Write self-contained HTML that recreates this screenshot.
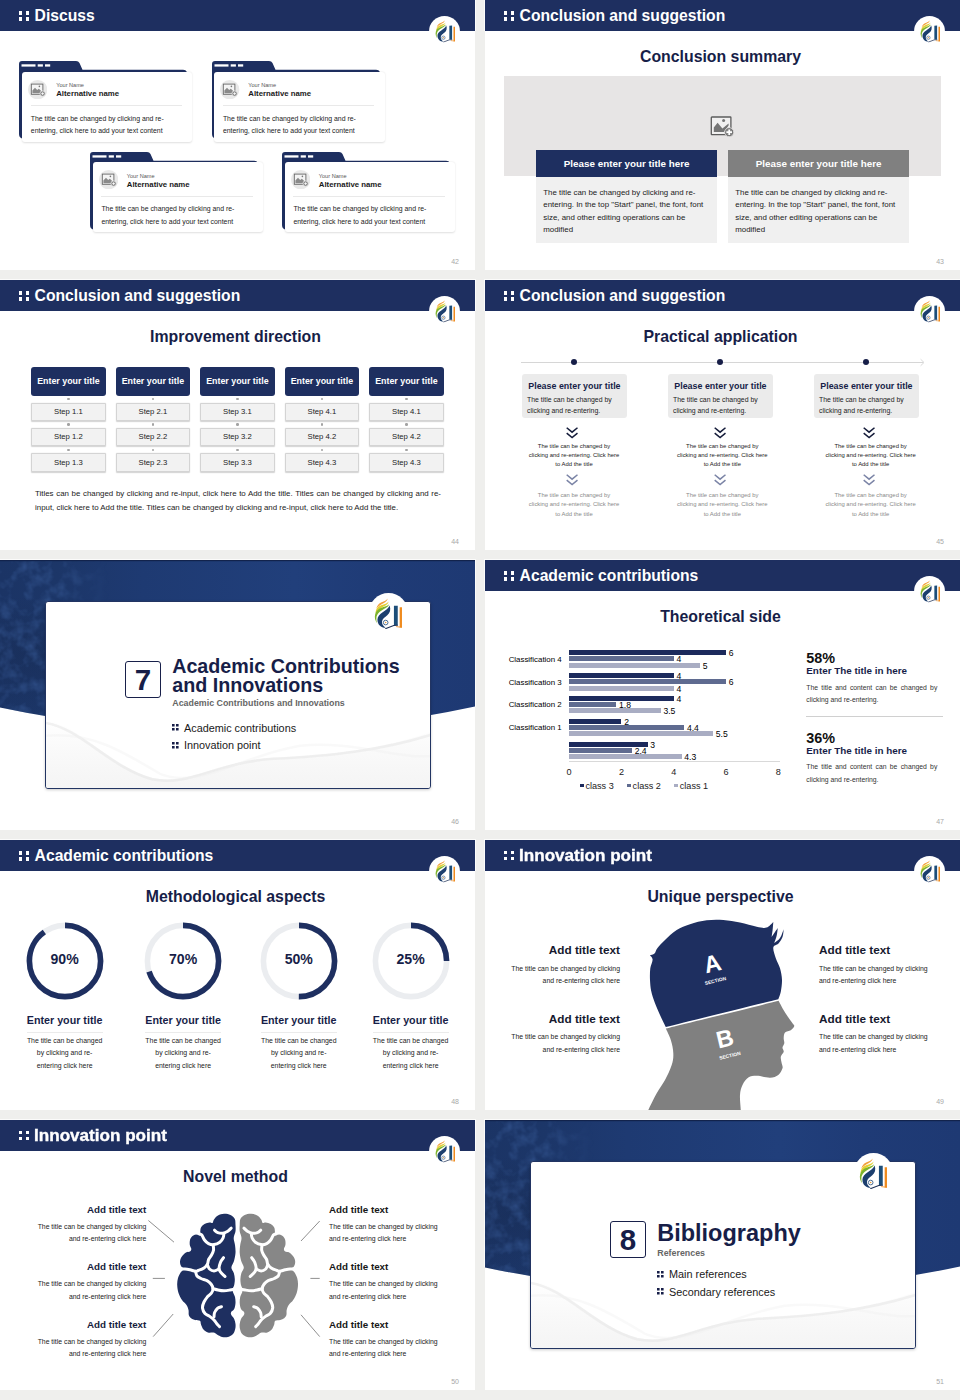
<!DOCTYPE html><html><head><meta charset="utf-8"><title>slides</title><style>

*{box-sizing:border-box;margin:0;padding:0}
html,body{width:960px;height:1400px}
body{background:#efefed;font-family:"Liberation Sans",sans-serif;position:relative;overflow:hidden;color:#222}
.s{position:absolute;width:475px;height:270px;background:#fff;overflow:hidden}
.hd{position:absolute;left:0;top:0;width:475px;height:30.6px;background:#1e2f60}
.hd b{position:absolute;left:34.6px;top:0;line-height:32.6px;font-size:15.7px;color:#fff;white-space:nowrap;font-weight:bold}
.hd i{position:absolute;width:3.3px;height:3.7px;background:#fff}
.lc{position:absolute;left:429.3px;top:15.5px;width:31px;height:31px;border-radius:50%;background:#fff}
.lg{position:absolute;left:434.8px;top:20.2px;width:20.3px;height:22.5px}
.t{position:absolute;white-space:nowrap;line-height:1}
.b{font-weight:bold}
.pn{position:absolute;font-size:7px;color:#a8a8a8;line-height:1;right:16px;top:257.6px}
.ttl{position:absolute;left:-2px;width:475px;text-align:center;font-weight:bold;color:#171e48;font-size:15.85px;line-height:1;top:49px;white-space:nowrap}
.a{position:absolute}
.halo{position:absolute;width:477px;background:#fbfbfa}

</style></head><body>

<svg width="0" height="0" style="position:absolute">
<defs>
<symbol id="logo" viewBox="0 0 28 31">
<path d="M13.4,0.4 C13.6,4.6 6.4,5.2 2.2,10.6 C3.2,7.2 4.6,5.6 7.6,4.2 C10.2,3 12.6,2.4 13.4,0.4Z" fill="#f2a03c"/>
<path d="M14.4,3.4 C14.4,7.8 5.6,8.4 1.5,15.2 C1.8,11 3.4,8.8 7,7.2 C10.4,5.8 13.4,5.4 14.4,3.4Z" fill="#e3cf2f"/>
<path d="M15,6 C15,10.6 3.6,11.4 2.4,19.6 C2.2,22 2.6,24 3.4,25.6 C1.2,23 0.2,19.6 1.2,16 C2.6,11.4 6.6,10 10,8.8 C12.6,7.8 14.4,7.4 15,6Z" fill="#7db32c"/>
<path d="M15.5,7.4 C16.9,11.4 16,14.8 13.2,17.2 C10.8,19.2 8.4,20.6 8,23.2 C7.6,25.8 8.8,27.8 11.6,29.6 C6.8,29.6 3.4,26.4 3.4,21.6 C3.4,14.8 13.4,13.4 15.5,7.4Z" fill="#1c3f6e"/>
<circle cx="11.6" cy="24.4" r="2.3" fill="none" stroke="#3b5f86" stroke-width="0.9"/>
<circle cx="11.6" cy="24.4" r="0.8" fill="#e59a3a"/>
<path d="M19.8,7.8 L23.6,7.6 L23.6,26.9 L19.8,26.9Z" fill="#1d4e79"/>
<path d="M25.5,9.2 L27.8,9.2 L27.8,29.4 L25.5,29.4Z" fill="#ef8b1e"/>
<path d="M11.2,30.6 L19.6,27.4 L23.8,27.2" fill="none" stroke="#1c2f55" stroke-width="1"/>
<path d="M22,28.4 L27.8,29.2" fill="none" stroke="#ef8b1e" stroke-width="0.8"/>
</symbol>
</defs>
</svg>

<div class="halo" style="left:-1px;top:-1px;height:31.6px"></div>
<div class="halo" style="left:484px;top:-1px;height:31.6px"></div>
<div class="halo" style="left:-1px;top:279px;height:31.6px"></div>
<div class="halo" style="left:484px;top:279px;height:31.6px"></div>
<div class="halo" style="left:-1px;top:559px;height:148px"></div>
<div class="halo" style="left:484px;top:559px;height:31.6px"></div>
<div class="halo" style="left:-1px;top:839px;height:31.6px"></div>
<div class="halo" style="left:484px;top:839px;height:31.6px"></div>
<div class="halo" style="left:-1px;top:1119px;height:31.6px"></div>
<div class="halo" style="left:484px;top:1119px;height:148px"></div>
<div class="s" style="left:0px;top:0px"><div class="hd"><i style="left:18.9px;top:10.9px"></i><i style="left:25.9px;top:10.9px"></i><i style="left:18.9px;top:17.0px"></i><i style="left:25.9px;top:17.0px"></i><b>Discuss</b></div><div class="lc"></div><svg class="lg"><use href="#logo"/></svg><div class="pn">42</div><svg class="a" style="left:19.4px;top:61.1px;width:175px;height:82px" viewBox="0 0 175 82"><path d="M0,3 Q0,0 3,0 L57,0 Q59.5,0 60.5,2 L63.5,8.7 L164,8.7 Q167.5,8.7 168,12 L168,20 L6,20 L6,78 L3,77.5 Q0,76.5 0,73Z" fill="#1e2f60"/><rect x="2.5" y="3.3" width="14" height="2.3" fill="#fff"/><rect x="18.7" y="3.3" width="5.2" height="2.3" fill="#fff"/><rect x="26" y="3.3" width="5.2" height="2.3" fill="#fff"/></svg><div class="a" style="left:21.9px;top:71.5px;width:170.6px;height:70px;background:#fff;border-radius:3px;box-shadow:0 0.5px 2px rgba(0,0,0,.13)"></div><svg class="a" style="left:28.099999999999998px;top:79.5px;width:19.4px;height:19.4px" viewBox="0 0 19.4 19.4"><circle cx="9.7" cy="9.7" r="9.7" fill="#e9e9e9"/><rect x="3.3" y="4.1" width="11.6" height="10.2" fill="#f4f4f4" stroke="#666" stroke-width="0.9"/><path d="M4.4,13.2 L4.4,10.6 L7,7.8 L9.2,10 L10.8,8.8 L13.8,11.6 L13.8,13.2Z" fill="#8a8a8a"/><circle cx="11.4" cy="6.4" r="0.8" fill="#777"/><circle cx="14.6" cy="13.6" r="2.7" fill="#8a8a8a" stroke="#f0f0f0" stroke-width="0.7"/><path d="M13.2,13.6h2.8M14.6,12.2v2.8" stroke="#fff" stroke-width="0.8"/></svg><div class="t " style="top:83.00px;font-size:5.6px;left:56.20px;color:#555;">Your Name</div><div class="t b" style="top:90.00px;font-size:7.8px;left:56.20px;color:#1a1a1a;">Alternative name</div><div class="a" style="left:30.799999999999997px;top:104.9px;width:151.2px;height:0.6px;background:#e9e9e9"></div><div class="t " style="top:115.87px;font-size:6.9px;left:30.80px;color:#222;">The title can be changed by clicking and re-</div><div class="t " style="top:128.07px;font-size:6.9px;left:30.80px;color:#222;">entering, click here to add your text content</div><svg class="a" style="left:211.5px;top:61.1px;width:175px;height:82px" viewBox="0 0 175 82"><path d="M0,3 Q0,0 3,0 L57,0 Q59.5,0 60.5,2 L63.5,8.7 L164,8.7 Q167.5,8.7 168,12 L168,20 L6,20 L6,78 L3,77.5 Q0,76.5 0,73Z" fill="#1e2f60"/><rect x="2.5" y="3.3" width="14" height="2.3" fill="#fff"/><rect x="18.7" y="3.3" width="5.2" height="2.3" fill="#fff"/><rect x="26" y="3.3" width="5.2" height="2.3" fill="#fff"/></svg><div class="a" style="left:214.0px;top:71.5px;width:170.6px;height:70px;background:#fff;border-radius:3px;box-shadow:0 0.5px 2px rgba(0,0,0,.13)"></div><svg class="a" style="left:220.20000000000002px;top:79.5px;width:19.4px;height:19.4px" viewBox="0 0 19.4 19.4"><circle cx="9.7" cy="9.7" r="9.7" fill="#e9e9e9"/><rect x="3.3" y="4.1" width="11.6" height="10.2" fill="#f4f4f4" stroke="#666" stroke-width="0.9"/><path d="M4.4,13.2 L4.4,10.6 L7,7.8 L9.2,10 L10.8,8.8 L13.8,11.6 L13.8,13.2Z" fill="#8a8a8a"/><circle cx="11.4" cy="6.4" r="0.8" fill="#777"/><circle cx="14.6" cy="13.6" r="2.7" fill="#8a8a8a" stroke="#f0f0f0" stroke-width="0.7"/><path d="M13.2,13.6h2.8M14.6,12.2v2.8" stroke="#fff" stroke-width="0.8"/></svg><div class="t " style="top:83.00px;font-size:5.6px;left:248.30px;color:#555;">Your Name</div><div class="t b" style="top:90.00px;font-size:7.8px;left:248.30px;color:#1a1a1a;">Alternative name</div><div class="a" style="left:222.9px;top:104.9px;width:151.2px;height:0.6px;background:#e9e9e9"></div><div class="t " style="top:115.87px;font-size:6.9px;left:222.90px;color:#222;">The title can be changed by clicking and re-</div><div class="t " style="top:128.07px;font-size:6.9px;left:222.90px;color:#222;">entering, click here to add your text content</div><svg class="a" style="left:90px;top:151.7px;width:175px;height:82px" viewBox="0 0 175 82"><path d="M0,3 Q0,0 3,0 L57,0 Q59.5,0 60.5,2 L63.5,8.7 L164,8.7 Q167.5,8.7 168,12 L168,20 L6,20 L6,78 L3,77.5 Q0,76.5 0,73Z" fill="#1e2f60"/><rect x="2.5" y="3.3" width="14" height="2.3" fill="#fff"/><rect x="18.7" y="3.3" width="5.2" height="2.3" fill="#fff"/><rect x="26" y="3.3" width="5.2" height="2.3" fill="#fff"/></svg><div class="a" style="left:92.5px;top:162.1px;width:170.6px;height:70px;background:#fff;border-radius:3px;box-shadow:0 0.5px 2px rgba(0,0,0,.13)"></div><svg class="a" style="left:98.7px;top:170.1px;width:19.4px;height:19.4px" viewBox="0 0 19.4 19.4"><circle cx="9.7" cy="9.7" r="9.7" fill="#e9e9e9"/><rect x="3.3" y="4.1" width="11.6" height="10.2" fill="#f4f4f4" stroke="#666" stroke-width="0.9"/><path d="M4.4,13.2 L4.4,10.6 L7,7.8 L9.2,10 L10.8,8.8 L13.8,11.6 L13.8,13.2Z" fill="#8a8a8a"/><circle cx="11.4" cy="6.4" r="0.8" fill="#777"/><circle cx="14.6" cy="13.6" r="2.7" fill="#8a8a8a" stroke="#f0f0f0" stroke-width="0.7"/><path d="M13.2,13.6h2.8M14.6,12.2v2.8" stroke="#fff" stroke-width="0.8"/></svg><div class="t " style="top:173.60px;font-size:5.6px;left:126.80px;color:#555;">Your Name</div><div class="t b" style="top:180.60px;font-size:7.8px;left:126.80px;color:#1a1a1a;">Alternative name</div><div class="a" style="left:101.4px;top:195.5px;width:151.2px;height:0.6px;background:#e9e9e9"></div><div class="t " style="top:206.47px;font-size:6.9px;left:101.40px;color:#222;">The title can be changed by clicking and re-</div><div class="t " style="top:218.67px;font-size:6.9px;left:101.40px;color:#222;">entering, click here to add your text content</div><svg class="a" style="left:282px;top:151.7px;width:175px;height:82px" viewBox="0 0 175 82"><path d="M0,3 Q0,0 3,0 L57,0 Q59.5,0 60.5,2 L63.5,8.7 L164,8.7 Q167.5,8.7 168,12 L168,20 L6,20 L6,78 L3,77.5 Q0,76.5 0,73Z" fill="#1e2f60"/><rect x="2.5" y="3.3" width="14" height="2.3" fill="#fff"/><rect x="18.7" y="3.3" width="5.2" height="2.3" fill="#fff"/><rect x="26" y="3.3" width="5.2" height="2.3" fill="#fff"/></svg><div class="a" style="left:284.5px;top:162.1px;width:170.6px;height:70px;background:#fff;border-radius:3px;box-shadow:0 0.5px 2px rgba(0,0,0,.13)"></div><svg class="a" style="left:290.7px;top:170.1px;width:19.4px;height:19.4px" viewBox="0 0 19.4 19.4"><circle cx="9.7" cy="9.7" r="9.7" fill="#e9e9e9"/><rect x="3.3" y="4.1" width="11.6" height="10.2" fill="#f4f4f4" stroke="#666" stroke-width="0.9"/><path d="M4.4,13.2 L4.4,10.6 L7,7.8 L9.2,10 L10.8,8.8 L13.8,11.6 L13.8,13.2Z" fill="#8a8a8a"/><circle cx="11.4" cy="6.4" r="0.8" fill="#777"/><circle cx="14.6" cy="13.6" r="2.7" fill="#8a8a8a" stroke="#f0f0f0" stroke-width="0.7"/><path d="M13.2,13.6h2.8M14.6,12.2v2.8" stroke="#fff" stroke-width="0.8"/></svg><div class="t " style="top:173.60px;font-size:5.6px;left:318.80px;color:#555;">Your Name</div><div class="t b" style="top:180.60px;font-size:7.8px;left:318.80px;color:#1a1a1a;">Alternative name</div><div class="a" style="left:293.4px;top:195.5px;width:151.2px;height:0.6px;background:#e9e9e9"></div><div class="t " style="top:206.47px;font-size:6.9px;left:293.40px;color:#222;">The title can be changed by clicking and re-</div><div class="t " style="top:218.67px;font-size:6.9px;left:293.40px;color:#222;">entering, click here to add your text content</div></div>
<div class="s" style="left:485px;top:0px"><div class="hd"><i style="left:18.9px;top:10.9px"></i><i style="left:25.9px;top:10.9px"></i><i style="left:18.9px;top:17.0px"></i><i style="left:25.9px;top:17.0px"></i><b>Conclusion and suggestion</b></div><div class="lc"></div><svg class="lg"><use href="#logo"/></svg><div class="pn">43</div><div class="ttl">Conclusion summary</div><div class="a" style="left:18.75px;top:76.25px;width:437px;height:100.2px;background:#e7e5e5"></div><svg class="a" style="left:224.79999999999995px;top:116.4px;width:24.5px;height:21px" viewBox="0 0 24.5 21"><rect x="1.3" y="1" width="19.6" height="17.6" rx="0.6" fill="#f1f0f0" stroke="#5c5c5c" stroke-width="1.3"/><path d="M3.8,16 L3.8,11.6 L7.6,6.8 L12.4,12.4 L18.6,7.4 L18.6,9.4 L14,16Z" fill="#757575"/><circle cx="13.6" cy="4.6" r="1.5" fill="#757575"/><circle cx="19.2" cy="16.2" r="4.5" fill="#6e6e6e" stroke="#e7e5e5" stroke-width="0.8"/><circle cx="19.2" cy="16.2" r="3.2" fill="#8a8a8a"/><path d="M16.4,16.2h5.6M19.2,13.4v5.6" stroke="#fff" stroke-width="1.7"/></svg><div class="a" style="left:51.25px;top:150px;width:180.8px;height:26.7px;background:#1e2f60"></div><div class="a" style="left:51.25px;top:176.7px;width:180.8px;height:66.6px;background:#f0f0f0"></div><div class="t b" style="top:159.36px;font-size:9.85px;left:-8.35px;width:300px;text-align:center;color:#fff;">Please enter your title here</div><div class="t " style="top:188.51px;font-size:7.9px;left:58.25px;color:#222;">The title can be changed by clicking and re-</div><div class="t " style="top:201.01px;font-size:7.9px;left:58.25px;color:#222;">entering. In the top "Start" panel, the font, font</div><div class="t " style="top:213.51px;font-size:7.9px;left:58.25px;color:#222;">size, and other editing operations can be</div><div class="t " style="top:226.01px;font-size:7.9px;left:58.25px;color:#222;">modified</div><div class="a" style="left:243.25px;top:150px;width:180.8px;height:26.7px;background:#808080"></div><div class="a" style="left:243.25px;top:176.7px;width:180.8px;height:66.6px;background:#f0f0f0"></div><div class="t b" style="top:159.36px;font-size:9.85px;left:183.65px;width:300px;text-align:center;color:#fff;">Please enter your title here</div><div class="t " style="top:188.51px;font-size:7.9px;left:250.25px;color:#222;">The title can be changed by clicking and re-</div><div class="t " style="top:201.01px;font-size:7.9px;left:250.25px;color:#222;">entering. In the top "Start" panel, the font, font</div><div class="t " style="top:213.51px;font-size:7.9px;left:250.25px;color:#222;">size, and other editing operations can be</div><div class="t " style="top:226.01px;font-size:7.9px;left:250.25px;color:#222;">modified</div></div>
<div class="s" style="left:0px;top:280px"><div class="hd"><i style="left:18.9px;top:10.9px"></i><i style="left:25.9px;top:10.9px"></i><i style="left:18.9px;top:17.0px"></i><i style="left:25.9px;top:17.0px"></i><b>Conclusion and suggestion</b></div><div class="lc"></div><svg class="lg"><use href="#logo"/></svg><div class="pn">44</div><div class="ttl">Improvement direction</div><div class="a" style="left:31.25px;top:86.75px;width:74.3px;height:29px;background:#1e2f60;border-radius:3px"></div><div class="t b" style="top:96.57px;font-size:8.85px;left:-81.60px;width:300px;text-align:center;color:#fff;">Enter your title</div><div class="a" style="left:67.2px;top:118.0px;width:2.4px;height:2.4px;border-radius:50%;background:#a3a3a3"></div><div class="a" style="left:31.25px;top:122.5px;width:74.3px;height:18.6px;background:#f2f2f2;border:0.6px solid #d4d4d4;border-radius:1px;box-shadow:0 0.4px 1.2px rgba(0,0,0,.18)"></div><div class="t " style="top:128.04px;font-size:7.7px;left:-81.60px;width:300px;text-align:center;color:#222;">Step 1.1</div><div class="a" style="left:67.2px;top:143.3px;width:2.4px;height:2.4px;border-radius:50%;background:#a3a3a3"></div><div class="a" style="left:31.25px;top:147.8px;width:74.3px;height:18.6px;background:#f2f2f2;border:0.6px solid #d4d4d4;border-radius:1px;box-shadow:0 0.4px 1.2px rgba(0,0,0,.18)"></div><div class="t " style="top:153.34px;font-size:7.7px;left:-81.60px;width:300px;text-align:center;color:#222;">Step 1.2</div><div class="a" style="left:67.2px;top:168.60000000000002px;width:2.4px;height:2.4px;border-radius:50%;background:#a3a3a3"></div><div class="a" style="left:31.25px;top:173.10000000000002px;width:74.3px;height:18.6px;background:#f2f2f2;border:0.6px solid #d4d4d4;border-radius:1px;box-shadow:0 0.4px 1.2px rgba(0,0,0,.18)"></div><div class="t " style="top:178.64px;font-size:7.7px;left:-81.60px;width:300px;text-align:center;color:#222;">Step 1.3</div><div class="a" style="left:115.75px;top:86.75px;width:74.3px;height:29px;background:#1e2f60;border-radius:3px"></div><div class="t b" style="top:96.57px;font-size:8.85px;left:2.90px;width:300px;text-align:center;color:#fff;">Enter your title</div><div class="a" style="left:151.70000000000002px;top:118.0px;width:2.4px;height:2.4px;border-radius:50%;background:#a3a3a3"></div><div class="a" style="left:115.75px;top:122.5px;width:74.3px;height:18.6px;background:#f2f2f2;border:0.6px solid #d4d4d4;border-radius:1px;box-shadow:0 0.4px 1.2px rgba(0,0,0,.18)"></div><div class="t " style="top:128.04px;font-size:7.7px;left:2.90px;width:300px;text-align:center;color:#222;">Step 2.1</div><div class="a" style="left:151.70000000000002px;top:143.3px;width:2.4px;height:2.4px;border-radius:50%;background:#a3a3a3"></div><div class="a" style="left:115.75px;top:147.8px;width:74.3px;height:18.6px;background:#f2f2f2;border:0.6px solid #d4d4d4;border-radius:1px;box-shadow:0 0.4px 1.2px rgba(0,0,0,.18)"></div><div class="t " style="top:153.34px;font-size:7.7px;left:2.90px;width:300px;text-align:center;color:#222;">Step 2.2</div><div class="a" style="left:151.70000000000002px;top:168.60000000000002px;width:2.4px;height:2.4px;border-radius:50%;background:#a3a3a3"></div><div class="a" style="left:115.75px;top:173.10000000000002px;width:74.3px;height:18.6px;background:#f2f2f2;border:0.6px solid #d4d4d4;border-radius:1px;box-shadow:0 0.4px 1.2px rgba(0,0,0,.18)"></div><div class="t " style="top:178.64px;font-size:7.7px;left:2.90px;width:300px;text-align:center;color:#222;">Step 2.3</div><div class="a" style="left:200.25px;top:86.75px;width:74.3px;height:29px;background:#1e2f60;border-radius:3px"></div><div class="t b" style="top:96.57px;font-size:8.85px;left:87.40px;width:300px;text-align:center;color:#fff;">Enter your title</div><div class="a" style="left:236.20000000000002px;top:118.0px;width:2.4px;height:2.4px;border-radius:50%;background:#a3a3a3"></div><div class="a" style="left:200.25px;top:122.5px;width:74.3px;height:18.6px;background:#f2f2f2;border:0.6px solid #d4d4d4;border-radius:1px;box-shadow:0 0.4px 1.2px rgba(0,0,0,.18)"></div><div class="t " style="top:128.04px;font-size:7.7px;left:87.40px;width:300px;text-align:center;color:#222;">Step 3.1</div><div class="a" style="left:236.20000000000002px;top:143.3px;width:2.4px;height:2.4px;border-radius:50%;background:#a3a3a3"></div><div class="a" style="left:200.25px;top:147.8px;width:74.3px;height:18.6px;background:#f2f2f2;border:0.6px solid #d4d4d4;border-radius:1px;box-shadow:0 0.4px 1.2px rgba(0,0,0,.18)"></div><div class="t " style="top:153.34px;font-size:7.7px;left:87.40px;width:300px;text-align:center;color:#222;">Step 3.2</div><div class="a" style="left:236.20000000000002px;top:168.60000000000002px;width:2.4px;height:2.4px;border-radius:50%;background:#a3a3a3"></div><div class="a" style="left:200.25px;top:173.10000000000002px;width:74.3px;height:18.6px;background:#f2f2f2;border:0.6px solid #d4d4d4;border-radius:1px;box-shadow:0 0.4px 1.2px rgba(0,0,0,.18)"></div><div class="t " style="top:178.64px;font-size:7.7px;left:87.40px;width:300px;text-align:center;color:#222;">Step 3.3</div><div class="a" style="left:284.75px;top:86.75px;width:74.3px;height:29px;background:#1e2f60;border-radius:3px"></div><div class="t b" style="top:96.57px;font-size:8.85px;left:171.90px;width:300px;text-align:center;color:#fff;">Enter your title</div><div class="a" style="left:320.7px;top:118.0px;width:2.4px;height:2.4px;border-radius:50%;background:#a3a3a3"></div><div class="a" style="left:284.75px;top:122.5px;width:74.3px;height:18.6px;background:#f2f2f2;border:0.6px solid #d4d4d4;border-radius:1px;box-shadow:0 0.4px 1.2px rgba(0,0,0,.18)"></div><div class="t " style="top:128.04px;font-size:7.7px;left:171.90px;width:300px;text-align:center;color:#222;">Step 4.1</div><div class="a" style="left:320.7px;top:143.3px;width:2.4px;height:2.4px;border-radius:50%;background:#a3a3a3"></div><div class="a" style="left:284.75px;top:147.8px;width:74.3px;height:18.6px;background:#f2f2f2;border:0.6px solid #d4d4d4;border-radius:1px;box-shadow:0 0.4px 1.2px rgba(0,0,0,.18)"></div><div class="t " style="top:153.34px;font-size:7.7px;left:171.90px;width:300px;text-align:center;color:#222;">Step 4.2</div><div class="a" style="left:320.7px;top:168.60000000000002px;width:2.4px;height:2.4px;border-radius:50%;background:#a3a3a3"></div><div class="a" style="left:284.75px;top:173.10000000000002px;width:74.3px;height:18.6px;background:#f2f2f2;border:0.6px solid #d4d4d4;border-radius:1px;box-shadow:0 0.4px 1.2px rgba(0,0,0,.18)"></div><div class="t " style="top:178.64px;font-size:7.7px;left:171.90px;width:300px;text-align:center;color:#222;">Step 4.3</div><div class="a" style="left:369.25px;top:86.75px;width:74.3px;height:29px;background:#1e2f60;border-radius:3px"></div><div class="t b" style="top:96.57px;font-size:8.85px;left:256.40px;width:300px;text-align:center;color:#fff;">Enter your title</div><div class="a" style="left:405.2px;top:118.0px;width:2.4px;height:2.4px;border-radius:50%;background:#a3a3a3"></div><div class="a" style="left:369.25px;top:122.5px;width:74.3px;height:18.6px;background:#f2f2f2;border:0.6px solid #d4d4d4;border-radius:1px;box-shadow:0 0.4px 1.2px rgba(0,0,0,.18)"></div><div class="t " style="top:128.04px;font-size:7.7px;left:256.40px;width:300px;text-align:center;color:#222;">Step 4.1</div><div class="a" style="left:405.2px;top:143.3px;width:2.4px;height:2.4px;border-radius:50%;background:#a3a3a3"></div><div class="a" style="left:369.25px;top:147.8px;width:74.3px;height:18.6px;background:#f2f2f2;border:0.6px solid #d4d4d4;border-radius:1px;box-shadow:0 0.4px 1.2px rgba(0,0,0,.18)"></div><div class="t " style="top:153.34px;font-size:7.7px;left:256.40px;width:300px;text-align:center;color:#222;">Step 4.2</div><div class="a" style="left:405.2px;top:168.60000000000002px;width:2.4px;height:2.4px;border-radius:50%;background:#a3a3a3"></div><div class="a" style="left:369.25px;top:173.10000000000002px;width:74.3px;height:18.6px;background:#f2f2f2;border:0.6px solid #d4d4d4;border-radius:1px;box-shadow:0 0.4px 1.2px rgba(0,0,0,.18)"></div><div class="t " style="top:178.64px;font-size:7.7px;left:256.40px;width:300px;text-align:center;color:#222;">Step 4.3</div><div class="t " style="top:209.76px;font-size:7.9px;left:35.00px;width:406.00px;text-align-last:justify;text-align:justify;color:#222;">Titles can be changed by clicking and re-input, click here to Add the title. Titles can be changed by clicking and re-</div><div class="t " style="top:224.26px;font-size:7.9px;left:35.00px;color:#222;">input, click here to Add the title. Titles can be changed by clicking and re-input, click here to Add the title.</div></div>
<div class="s" style="left:485px;top:280px"><div class="hd"><i style="left:18.9px;top:10.9px"></i><i style="left:25.9px;top:10.9px"></i><i style="left:18.9px;top:17.0px"></i><i style="left:25.9px;top:17.0px"></i><b>Conclusion and suggestion</b></div><div class="lc"></div><svg class="lg"><use href="#logo"/></svg><div class="pn">45</div><div class="ttl">Practical application</div><div class="a" style="left:36.25px;top:81.60000000000002px;width:402px;height:0.9px;background:#d6d6d6"></div><svg class="a" style="left:433px;top:77.5px;width:8px;height:9px" viewBox="0 0 8 9"><path d="M2.6,1.2 L6,4.5 L2.6,7.8" fill="none" stroke="#c8c8c8" stroke-width="0.7"/></svg><div class="a" style="left:85.75px;top:79px;width:6px;height:6px;border-radius:50%;background:#171e48"></div><div class="a" style="left:37px;top:94.25px;width:105px;height:43.8px;background:#ebebeb;border-radius:3px"></div><div class="t b" style="top:102.11px;font-size:8.88px;left:43.30px;color:#171e48;">Please enter your title</div><div class="t " style="top:117.17px;font-size:6.9px;left:42.00px;color:#222;">The title can be changed by</div><div class="t " style="top:127.92px;font-size:6.9px;left:42.00px;color:#222;">clicking and re-entering.</div><svg class="a" style="left:80.65px;top:147px;width:12.2px;height:11.8px" viewBox="0 0 12.2 11.8"><path d="M0.7,0.7 L6.1,5.2 L11.5,0.7 M0.7,6.1 L6.1,10.6 L11.5,6.1" fill="none" stroke="#151c3a" stroke-width="1.5"/></svg><div class="t " style="top:163.83px;font-size:5.9px;left:-61.00px;width:300px;text-align:center;color:#222;">The title can be changed by</div><div class="t " style="top:173.03px;font-size:5.9px;left:-61.00px;width:300px;text-align:center;color:#222;">clicking and re-entering. Click here</div><div class="t " style="top:182.23px;font-size:5.9px;left:-61.00px;width:300px;text-align:center;color:#222;">to Add the title</div><svg class="a" style="left:80.65px;top:193.75px;width:12.2px;height:11.8px" viewBox="0 0 12.2 11.8"><path d="M0.7,0.7 L6.1,5.2 L11.5,0.7 M0.7,6.1 L6.1,10.6 L11.5,6.1" fill="none" stroke="#7b84a6" stroke-width="1.5"/></svg><div class="t " style="top:213.08px;font-size:5.9px;left:-61.00px;width:300px;text-align:center;color:#8a8a8a;">The title can be changed by</div><div class="t " style="top:222.48px;font-size:5.9px;left:-61.00px;width:300px;text-align:center;color:#8a8a8a;">clicking and re-entering. Click here</div><div class="t " style="top:231.88px;font-size:5.9px;left:-61.00px;width:300px;text-align:center;color:#8a8a8a;">to Add the title</div><div class="a" style="left:232.0px;top:79px;width:6px;height:6px;border-radius:50%;background:#171e48"></div><div class="a" style="left:183px;top:94.25px;width:105px;height:43.8px;background:#ebebeb;border-radius:3px"></div><div class="t b" style="top:102.11px;font-size:8.88px;left:189.30px;color:#171e48;">Please enter your title</div><div class="t " style="top:117.17px;font-size:6.9px;left:188.00px;color:#222;">The title can be changed by</div><div class="t " style="top:127.92px;font-size:6.9px;left:188.00px;color:#222;">clicking and re-entering.</div><svg class="a" style="left:229.15px;top:147px;width:12.2px;height:11.8px" viewBox="0 0 12.2 11.8"><path d="M0.7,0.7 L6.1,5.2 L11.5,0.7 M0.7,6.1 L6.1,10.6 L11.5,6.1" fill="none" stroke="#151c3a" stroke-width="1.5"/></svg><div class="t " style="top:163.83px;font-size:5.9px;left:87.30px;width:300px;text-align:center;color:#222;">The title can be changed by</div><div class="t " style="top:173.03px;font-size:5.9px;left:87.30px;width:300px;text-align:center;color:#222;">clicking and re-entering. Click here</div><div class="t " style="top:182.23px;font-size:5.9px;left:87.30px;width:300px;text-align:center;color:#222;">to Add the title</div><svg class="a" style="left:229.15px;top:193.75px;width:12.2px;height:11.8px" viewBox="0 0 12.2 11.8"><path d="M0.7,0.7 L6.1,5.2 L11.5,0.7 M0.7,6.1 L6.1,10.6 L11.5,6.1" fill="none" stroke="#7b84a6" stroke-width="1.5"/></svg><div class="t " style="top:213.08px;font-size:5.9px;left:87.30px;width:300px;text-align:center;color:#8a8a8a;">The title can be changed by</div><div class="t " style="top:222.48px;font-size:5.9px;left:87.30px;width:300px;text-align:center;color:#8a8a8a;">clicking and re-entering. Click here</div><div class="t " style="top:231.88px;font-size:5.9px;left:87.30px;width:300px;text-align:center;color:#8a8a8a;">to Add the title</div><div class="a" style="left:378.25px;top:79px;width:6px;height:6px;border-radius:50%;background:#171e48"></div><div class="a" style="left:329px;top:94.25px;width:105px;height:43.8px;background:#ebebeb;border-radius:3px"></div><div class="t b" style="top:102.11px;font-size:8.88px;left:335.30px;color:#171e48;">Please enter your title</div><div class="t " style="top:117.17px;font-size:6.9px;left:334.00px;color:#222;">The title can be changed by</div><div class="t " style="top:127.92px;font-size:6.9px;left:334.00px;color:#222;">clicking and re-entering.</div><svg class="a" style="left:377.65px;top:147px;width:12.2px;height:11.8px" viewBox="0 0 12.2 11.8"><path d="M0.7,0.7 L6.1,5.2 L11.5,0.7 M0.7,6.1 L6.1,10.6 L11.5,6.1" fill="none" stroke="#151c3a" stroke-width="1.5"/></svg><div class="t " style="top:163.83px;font-size:5.9px;left:235.60px;width:300px;text-align:center;color:#222;">The title can be changed by</div><div class="t " style="top:173.03px;font-size:5.9px;left:235.60px;width:300px;text-align:center;color:#222;">clicking and re-entering. Click here</div><div class="t " style="top:182.23px;font-size:5.9px;left:235.60px;width:300px;text-align:center;color:#222;">to Add the title</div><svg class="a" style="left:377.65px;top:193.75px;width:12.2px;height:11.8px" viewBox="0 0 12.2 11.8"><path d="M0.7,0.7 L6.1,5.2 L11.5,0.7 M0.7,6.1 L6.1,10.6 L11.5,6.1" fill="none" stroke="#7b84a6" stroke-width="1.5"/></svg><div class="t " style="top:213.08px;font-size:5.9px;left:235.60px;width:300px;text-align:center;color:#8a8a8a;">The title can be changed by</div><div class="t " style="top:222.48px;font-size:5.9px;left:235.60px;width:300px;text-align:center;color:#8a8a8a;">clicking and re-entering. Click here</div><div class="t " style="top:231.88px;font-size:5.9px;left:235.60px;width:300px;text-align:center;color:#8a8a8a;">to Add the title</div></div>
<div class="s" style="left:0px;top:560px"><svg class="a" style="left:0;top:0;width:475px;height:210px" viewBox="0 0 475 210"><defs><linearGradient id="bgA46" x1="0" y1="0" x2="1" y2="0"><stop offset="0" stop-color="#1b3465"/><stop offset="0.12" stop-color="#1c3668"/><stop offset="0.3" stop-color="#1e3a72"/><stop offset="0.62" stop-color="#213f7b"/><stop offset="0.8" stop-color="#1f3b76"/><stop offset="1" stop-color="#1e3973"/></linearGradient><radialGradient id="bgB46" cx="0.06" cy="0.45" r="0.28"><stop offset="0" stop-color="#17294f" stop-opacity=".4"/><stop offset="1" stop-color="#17294f" stop-opacity="0"/></radialGradient><filter id="tx46" x="0" y="0" width="1" height="1" color-interpolation-filters="sRGB"><feTurbulence type="fractalNoise" baseFrequency="0.075" numOctaves="3" seed="4"/><feColorMatrix values="0 0 0 0 0.2  0 0 0 0 0.33  0 0 0 0 0.56  0 0 0 1.7 -0.72"/></filter><linearGradient id="mg46" x1="0" y1="0" x2="1" y2="0"><stop offset="0" stop-color="#fff"/><stop offset="0.5" stop-color="#fff"/><stop offset="1" stop-color="#000"/></linearGradient><mask id="mk46"><rect x="0" y="0" width="110" height="160" fill="url(#mg46)"/></mask><clipPath id="bgC46"><path d="M0,0 L475,0 L475,146.5 Q237.5,197.6 0,147.5Z"/></clipPath></defs><g clip-path="url(#bgC46)"><rect width="475" height="210" fill="url(#bgA46)"/><rect width="475" height="210" fill="url(#bgB46)"/><g mask="url(#mk46)"><path d="M0,0 L110,0 L95,30 L58,44 L58,160 L0,160Z" filter="url(#tx46)"/></g><rect width="475" height="1.2" fill="#12234c"/></g></svg><div class="a" style="left:45px;top:41.2px;width:385.6px;height:188.2px;background:#fff;border:1px solid #223462;border-radius:3px;box-shadow:0 1px 3px rgba(0,0,0,.2);overflow:hidden"><svg class="a" style="left:-1px;top:-1px;width:385.6px;height:188.2px" viewBox="45 41.2 385.6 188.2"><defs><linearGradient id="wg46" x1="0" y1="0" x2="0" y2="1"><stop offset="0" stop-color="#f1f1f1" stop-opacity="0"/><stop offset="1" stop-color="#f4f4f4" stop-opacity=".95"/></linearGradient></defs><path d="M45,160 C80,166 110,206 152,218 C190,226 215,202 273,198 C330,195 380,190 431,172 L431,230 L45,230Z" fill="url(#wg46)"/><path d="M45,163 C80,168 110,208 152,219.5 C190,227 215,203 273,199 C330,196 380,191 431,175" fill="none" stroke="#e6e6e6" stroke-width="2.6" opacity=".55"/><path d="M45,176 C90,172 120,190 160,214 C200,230 240,196 300,186 C350,180 400,200 431,196" fill="none" stroke="#f0f0f0" stroke-width="2.5" opacity=".4"/></svg></div><div class="a" style="left:368.9px;top:32.8px;width:39px;height:39px;border-radius:50%;background:#fff"></div><svg class="a" style="left:374.4px;top:38.3px;width:28.2px;height:31.2px"><use href="#logo"/></svg><div class="a" style="left:125px;top:101.2px;width:35.6px;height:36.4px;border:1.9px solid #18204a;border-radius:3px;background:#fff"></div><div class="t b" style="top:104.60px;font-size:29.5px;left:-7.10px;width:300px;text-align:center;color:#171e48;">7</div><div class="t b" style="top:97.10px;font-size:19.7px;left:172.20px;color:#171e48;">Academic Contributions</div><div class="t b" style="top:116.20px;font-size:19.7px;left:172.20px;color:#171e48;">and Innovations</div><div class="t b" style="top:139.47px;font-size:8.85px;left:172.30px;color:#666;">Academic Contributions and Innovations</div><svg class="a" style="left:172.3px;top:164.20px;width:7px;height:7px" viewBox="0 0 7 7"><path d="M0,0h2.6v2.6h-2.6zM4,0h2.6v2.6h-2.6zM0,4h2.6v2.6h-2.6zM4,4h2.6v2.6h-2.6z" fill="#171e48"/></svg><div class="t " style="top:162.75px;font-size:10.85px;left:184.00px;color:#1a1a1a;">Academic contributions</div><svg class="a" style="left:172.3px;top:181.60px;width:7px;height:7px" viewBox="0 0 7 7"><path d="M0,0h2.6v2.6h-2.6zM4,0h2.6v2.6h-2.6zM0,4h2.6v2.6h-2.6zM4,4h2.6v2.6h-2.6z" fill="#171e48"/></svg><div class="t " style="top:180.15px;font-size:10.85px;left:184.00px;color:#1a1a1a;">Innovation point</div><div class="pn">46</div></div>
<div class="s" style="left:485px;top:560px"><div class="hd"><i style="left:18.9px;top:10.9px"></i><i style="left:25.9px;top:10.9px"></i><i style="left:18.9px;top:17.0px"></i><i style="left:25.9px;top:17.0px"></i><b>Academic contributions</b></div><div class="lc"></div><svg class="lg"><use href="#logo"/></svg><div class="pn">47</div><div class="ttl">Theoretical side</div><div class="a" style="left:84.10000000000002px;top:90.10px;width:156.90px;height:5px;background:#1c2a5c"></div><div class="t " style="top:89.17px;font-size:8.6px;left:243.80px;color:#000;">6</div><div class="a" style="left:84.10000000000002px;top:96.40px;width:104.60px;height:5px;background:#5f6b90"></div><div class="t " style="top:95.47px;font-size:8.6px;left:191.50px;color:#000;">4</div><div class="a" style="left:84.10000000000002px;top:102.70px;width:130.75px;height:5px;background:#a9adc3"></div><div class="t " style="top:101.77px;font-size:8.6px;left:217.65px;color:#000;">5</div><div class="t " style="top:95.76px;font-size:7.9px;right:398.30px;color:#000;">Classification 4</div><div class="a" style="left:84.10000000000002px;top:112.95px;width:104.60px;height:5px;background:#1c2a5c"></div><div class="t " style="top:112.02px;font-size:8.6px;left:191.50px;color:#000;">4</div><div class="a" style="left:84.10000000000002px;top:119.25px;width:156.90px;height:5px;background:#5f6b90"></div><div class="t " style="top:118.32px;font-size:8.6px;left:243.80px;color:#000;">6</div><div class="a" style="left:84.10000000000002px;top:125.55px;width:104.60px;height:5px;background:#a9adc3"></div><div class="t " style="top:124.62px;font-size:8.6px;left:191.50px;color:#000;">4</div><div class="t " style="top:118.61px;font-size:7.9px;right:398.30px;color:#000;">Classification 3</div><div class="a" style="left:84.10000000000002px;top:135.80px;width:104.60px;height:5px;background:#1c2a5c"></div><div class="t " style="top:134.87px;font-size:8.6px;left:191.50px;color:#000;">4</div><div class="a" style="left:84.10000000000002px;top:142.10px;width:47.07px;height:5px;background:#5f6b90"></div><div class="t " style="top:141.17px;font-size:8.6px;left:133.97px;color:#000;">1.8</div><div class="a" style="left:84.10000000000002px;top:148.40px;width:91.52px;height:5px;background:#a9adc3"></div><div class="t " style="top:147.47px;font-size:8.6px;left:178.43px;color:#000;">3.5</div><div class="t " style="top:141.46px;font-size:7.9px;right:398.30px;color:#000;">Classification 2</div><div class="a" style="left:84.10000000000002px;top:158.65px;width:52.30px;height:5px;background:#1c2a5c"></div><div class="t " style="top:157.72px;font-size:8.6px;left:139.20px;color:#000;">2</div><div class="a" style="left:84.10000000000002px;top:164.95px;width:115.06px;height:5px;background:#5f6b90"></div><div class="t " style="top:164.02px;font-size:8.6px;left:201.96px;color:#000;">4.4</div><div class="a" style="left:84.10000000000002px;top:171.25px;width:143.82px;height:5px;background:#a9adc3"></div><div class="t " style="top:170.32px;font-size:8.6px;left:230.73px;color:#000;">5.5</div><div class="t " style="top:164.31px;font-size:7.9px;right:398.30px;color:#000;">Classification 1</div><div class="a" style="left:84.10000000000002px;top:181.50px;width:78.45px;height:5px;background:#1c2a5c"></div><div class="t " style="top:180.57px;font-size:8.6px;left:165.35px;color:#000;">3</div><div class="a" style="left:84.10000000000002px;top:187.80px;width:62.76px;height:5px;background:#5f6b90"></div><div class="t " style="top:186.87px;font-size:8.6px;left:149.66px;color:#000;">2.4</div><div class="a" style="left:84.10000000000002px;top:194.10px;width:112.44px;height:5px;background:#a9adc3"></div><div class="t " style="top:193.17px;font-size:8.6px;left:199.35px;color:#000;">4.3</div><div class="a" style="left:84.10000000000002px;top:201px;width:211.2px;height:0.8px;background:#d9d9d9"></div><div class="t " style="top:208.27px;font-size:9.1px;left:-65.90px;width:300px;text-align:center;color:#222;">0</div><div class="t " style="top:208.27px;font-size:9.1px;left:-13.60px;width:300px;text-align:center;color:#222;">2</div><div class="t " style="top:208.27px;font-size:9.1px;left:38.70px;width:300px;text-align:center;color:#222;">4</div><div class="t " style="top:208.27px;font-size:9.1px;left:91.00px;width:300px;text-align:center;color:#222;">6</div><div class="t " style="top:208.27px;font-size:9.1px;left:143.30px;width:300px;text-align:center;color:#222;">8</div><div class="a" style="left:94.79999999999995px;top:223.70000000000005px;width:3.8px;height:3.8px;background:#1c2a5c"></div><div class="t " style="top:221.87px;font-size:9.1px;left:100.40px;color:#222;">class 3</div><div class="a" style="left:141.99999999999994px;top:223.70000000000005px;width:3.8px;height:3.8px;background:#5f6b90"></div><div class="t " style="top:221.87px;font-size:9.1px;left:147.60px;color:#222;">class 2</div><div class="a" style="left:189.19999999999996px;top:223.70000000000005px;width:3.8px;height:3.8px;background:#a9adc3"></div><div class="t " style="top:221.87px;font-size:9.1px;left:194.80px;color:#222;">class 1</div><div class="t b" style="top:91.20px;font-size:14.4px;left:321.30px;color:#111;">58%</div><div class="t b" style="top:106.16px;font-size:9.85px;left:321.30px;color:#171e48;">Enter The title in here</div><div class="t " style="top:124.81px;font-size:6.8px;left:321.30px;width:131.00px;text-align-last:justify;text-align:justify;color:#333;">The title and content can be changed by</div><div class="t " style="top:136.91px;font-size:6.8px;left:321.30px;color:#333;">clicking and re-entering.</div><div class="t b" style="top:170.80px;font-size:14.4px;left:321.30px;color:#111;">36%</div><div class="t b" style="top:185.76px;font-size:9.85px;left:321.30px;color:#171e48;">Enter The title in here</div><div class="t " style="top:204.41px;font-size:6.8px;left:321.30px;width:131.00px;text-align-last:justify;text-align:justify;color:#333;">The title and content can be changed by</div><div class="t " style="top:216.51px;font-size:6.8px;left:321.30px;color:#333;">clicking and re-entering.</div><div class="a" style="left:321px;top:156.10000000000002px;width:137px;height:0.7px;background:#d0d0d0"></div></div>
<div class="s" style="left:0px;top:840px"><div class="hd"><i style="left:18.9px;top:10.9px"></i><i style="left:25.9px;top:10.9px"></i><i style="left:18.9px;top:17.0px"></i><i style="left:25.9px;top:17.0px"></i><b>Academic contributions</b></div><div class="lc"></div><svg class="lg"><use href="#logo"/></svg><div class="pn">48</div><div class="ttl">Methodological aspects</div><svg class="a" style="left:24.599999999999994px;top:81px;width:80px;height:80px" viewBox="-40 -40 80 80"><circle r="35.6" fill="none" stroke="#ebedf0" stroke-width="5.6"/><circle r="35.6" fill="none" stroke="#1e2f60" stroke-width="5.6" stroke-dasharray="201.31 223.68" transform="rotate(-90)"/></svg><div class="t b" style="top:112.42px;font-size:14.1px;left:-85.40px;width:300px;text-align:center;color:#171e48;">90%</div><div class="t b" style="top:174.60px;font-size:10.73px;left:-85.40px;width:300px;text-align:center;color:#171e48;">Enter your title</div><div class="a" style="left:26.599999999999994px;top:191.5999999999999px;width:76px;height:0.5px;background:#ebebeb"></div><div class="t " style="top:197.67px;font-size:6.9px;left:-85.40px;width:300px;text-align:center;color:#222;">The title can be changed</div><div class="t " style="top:210.17px;font-size:6.9px;left:-85.40px;width:300px;text-align:center;color:#222;">by clicking and re-</div><div class="t " style="top:222.67px;font-size:6.9px;left:-85.40px;width:300px;text-align:center;color:#222;">entering click here</div><svg class="a" style="left:143.1px;top:81px;width:80px;height:80px" viewBox="-40 -40 80 80"><circle r="35.6" fill="none" stroke="#ebedf0" stroke-width="5.6"/><circle r="35.6" fill="none" stroke="#1e2f60" stroke-width="5.6" stroke-dasharray="156.58 223.68" transform="rotate(-90)"/></svg><div class="t b" style="top:112.42px;font-size:14.1px;left:33.10px;width:300px;text-align:center;color:#171e48;">70%</div><div class="t b" style="top:174.60px;font-size:10.73px;left:33.10px;width:300px;text-align:center;color:#171e48;">Enter your title</div><div class="a" style="left:145.1px;top:191.5999999999999px;width:76px;height:0.5px;background:#ebebeb"></div><div class="t " style="top:197.67px;font-size:6.9px;left:33.10px;width:300px;text-align:center;color:#222;">The title can be changed</div><div class="t " style="top:210.17px;font-size:6.9px;left:33.10px;width:300px;text-align:center;color:#222;">by clicking and re-</div><div class="t " style="top:222.67px;font-size:6.9px;left:33.10px;width:300px;text-align:center;color:#222;">entering click here</div><svg class="a" style="left:258.75px;top:81px;width:80px;height:80px" viewBox="-40 -40 80 80"><circle r="35.6" fill="none" stroke="#ebedf0" stroke-width="5.6"/><circle r="35.6" fill="none" stroke="#1e2f60" stroke-width="5.6" stroke-dasharray="111.84 223.68" transform="rotate(-90)"/></svg><div class="t b" style="top:112.42px;font-size:14.1px;left:148.75px;width:300px;text-align:center;color:#171e48;">50%</div><div class="t b" style="top:174.60px;font-size:10.73px;left:148.75px;width:300px;text-align:center;color:#171e48;">Enter your title</div><div class="a" style="left:260.75px;top:191.5999999999999px;width:76px;height:0.5px;background:#ebebeb"></div><div class="t " style="top:197.67px;font-size:6.9px;left:148.75px;width:300px;text-align:center;color:#222;">The title can be changed</div><div class="t " style="top:210.17px;font-size:6.9px;left:148.75px;width:300px;text-align:center;color:#222;">by clicking and re-</div><div class="t " style="top:222.67px;font-size:6.9px;left:148.75px;width:300px;text-align:center;color:#222;">entering click here</div><svg class="a" style="left:370.6px;top:81px;width:80px;height:80px" viewBox="-40 -40 80 80"><circle r="35.6" fill="none" stroke="#ebedf0" stroke-width="5.6"/><circle r="35.6" fill="none" stroke="#1e2f60" stroke-width="5.6" stroke-dasharray="55.92 223.68" transform="rotate(-90)"/></svg><div class="t b" style="top:112.42px;font-size:14.1px;left:260.60px;width:300px;text-align:center;color:#171e48;">25%</div><div class="t b" style="top:174.60px;font-size:10.73px;left:260.60px;width:300px;text-align:center;color:#171e48;">Enter your title</div><div class="a" style="left:372.6px;top:191.5999999999999px;width:76px;height:0.5px;background:#ebebeb"></div><div class="t " style="top:197.67px;font-size:6.9px;left:260.60px;width:300px;text-align:center;color:#222;">The title can be changed</div><div class="t " style="top:210.17px;font-size:6.9px;left:260.60px;width:300px;text-align:center;color:#222;">by clicking and re-</div><div class="t " style="top:222.67px;font-size:6.9px;left:260.60px;width:300px;text-align:center;color:#222;">entering click here</div></div>
<div class="s" style="left:485px;top:840px"><div class="hd"><i style="left:18.8px;top:11.3px;width:3.3px;height:3.2px"></i><i style="left:25.7px;top:11.3px;width:3.3px;height:3.2px"></i><i style="left:18.8px;top:17.3px;width:3.3px;height:3.2px"></i><i style="left:25.7px;top:17.3px;width:3.3px;height:3.2px"></i><b style="left:33.6px;font-size:16.4px;line-height:30.6px;-webkit-text-stroke:0.35px #fff;transform:scaleX(1.043);transform-origin:0 50%">Innovation point</b></div><div class="lc"></div><svg class="lg"><use href="#logo"/></svg><div class="pn">49</div><div class="ttl">Unique perspective</div><svg class="a" style="left:0;top:0;width:475px;height:270px" viewBox="0 0 475 270"><path d="M180.8,188.6 C199.6,184.0 274.8,165.4 293.6,160.8 C294.1,161.8 295.4,164.3 296.7,166.7 C298.0,169.1 299.9,172.2 301.7,175.0 C303.5,177.8 306.2,181.4 307.5,183.3 C308.8,185.2 309.5,185.0 309.2,186.2 C308.9,187.3 307.3,189.1 305.8,190.2 C304.3,191.2 301.2,191.2 300.0,192.5 C298.8,193.8 298.8,196.5 298.7,198.3 C298.6,200.1 299.5,201.8 299.3,203.3 C299.1,204.8 297.6,206.1 297.5,207.5 C297.4,208.9 299.0,210.2 298.7,211.7 C298.4,213.2 296.1,214.8 295.8,216.7 C295.5,218.6 296.4,221.4 296.7,223.3 C297.0,225.2 298.1,226.4 297.5,228.3 C296.9,230.2 295.4,233.4 293.3,235.0 C291.2,236.6 288.6,237.6 285.0,237.7 C281.4,237.8 275.3,235.8 271.7,235.8 C268.1,235.8 265.7,236.0 263.3,237.5 C260.9,239.0 258.9,242.1 257.5,245.0 C256.1,247.9 255.3,250.8 255.0,255.0 C254.7,259.2 255.7,267.5 255.8,270.0 C240.4,270.0 178.7,270.0 163.3,270.0 C164.7,267.2 168.9,258.3 171.7,253.3 C174.5,248.3 177.5,244.7 180.0,240.0 C182.5,235.3 185.3,229.4 186.7,225.0 C188.1,220.6 188.5,217.5 188.3,213.3 C188.2,209.1 187.1,204.1 185.8,200.0 C184.6,195.9 181.6,190.5 180.8,188.6Z" fill="#808080"/><path d="M180.8,187.0 C180.0,185.3 177.6,180.6 175.8,176.7 C174.0,172.8 171.6,167.6 170.0,163.3 C168.4,159.0 167.0,154.9 166.2,151.0 C165.4,147.1 165.2,143.8 165.0,140.0 C164.8,136.2 164.9,131.7 165.3,128.3 C165.7,124.9 167.7,121.7 167.6,119.5 C167.5,117.3 165.4,115.9 165.0,115.2 C165.8,114.9 168.2,114.7 169.5,113.5 C170.8,112.3 170.8,110.2 172.5,108.0 C174.2,105.8 176.8,103.0 180.0,100.0 C183.2,97.0 187.5,92.6 191.7,90.0 C195.9,87.4 200.0,85.8 205.0,84.2 C210.0,82.6 216.1,81.0 221.7,80.3 C227.2,79.6 232.8,79.6 238.3,80.0 C243.9,80.4 249.4,81.4 255.0,82.5 C260.6,83.6 267.3,85.9 271.7,86.7 C276.1,87.5 278.7,88.4 281.5,87.6 C284.3,86.8 287.2,82.9 288.3,82.0 C288.2,83.3 287.9,87.5 287.6,90.0 C287.3,92.5 286.8,95.8 286.6,97.0 C287.2,96.2 289.0,93.5 290.0,92.0 C291.0,90.5 292.3,88.7 292.8,88.0 C292.6,89.3 292.2,93.5 291.6,96.0 C291.0,98.5 289.6,101.8 289.2,103.0 C290.2,102.2 293.4,100.3 295.0,98.0 C296.6,95.7 298.1,90.7 298.7,89.2 C298.5,90.5 298.4,94.6 297.5,97.0 C296.6,99.4 295.0,101.8 293.5,103.5 C292.0,105.2 288.8,105.0 288.3,107.5 C287.9,110.0 289.7,114.8 290.8,118.3 C291.9,121.8 294.0,124.7 295.0,128.3 C296.0,131.9 296.9,136.1 297.0,140.0 C297.1,143.9 296.4,148.5 295.8,151.7 C295.2,154.9 293.7,157.9 293.3,159.2 C274.6,163.8 199.6,182.4 180.8,187.0Z" fill="#1e2f60"/><g fill="#fff" font-family="Liberation Sans, sans-serif" font-weight="bold" text-anchor="middle"><text transform="translate(229.2,131.5) rotate(-13.5)" font-size="23.6">A</text><text transform="translate(230.8,142.4) rotate(-13.5)" font-size="4.9">SECTION</text><text transform="translate(241.7,206.6) rotate(-13.5)" font-size="23.6">B</text><text transform="translate(245.3,217.2) rotate(-13.5)" font-size="4.9">SECTION</text></g></svg><div class="t b" style="top:104.37px;font-size:11.77px;right:340.00px;color:#16192e;">Add title text</div><div class="t " style="top:125.88px;font-size:6.87px;right:340.00px;color:#222;">The title can be changed by clicking</div><div class="t " style="top:138.08px;font-size:6.87px;right:340.00px;color:#222;">and re-entering click here</div><div class="t b" style="top:104.37px;font-size:11.77px;left:334.00px;color:#16192e;">Add title text</div><div class="t " style="top:125.88px;font-size:6.87px;left:334.00px;color:#222;">The title can be changed by clicking</div><div class="t " style="top:138.08px;font-size:6.87px;left:334.00px;color:#222;">and re-entering click here</div><div class="t b" style="top:173.17px;font-size:11.77px;right:340.00px;color:#16192e;">Add title text</div><div class="t " style="top:194.38px;font-size:6.87px;right:340.00px;color:#222;">The title can be changed by clicking</div><div class="t " style="top:206.78px;font-size:6.87px;right:340.00px;color:#222;">and re-entering click here</div><div class="t b" style="top:173.17px;font-size:11.77px;left:334.00px;color:#16192e;">Add title text</div><div class="t " style="top:194.38px;font-size:6.87px;left:334.00px;color:#222;">The title can be changed by clicking</div><div class="t " style="top:206.78px;font-size:6.87px;left:334.00px;color:#222;">and re-entering click here</div></div>
<div class="s" style="left:0px;top:1120px"><div class="hd"><i style="left:18.8px;top:11.3px;width:3.3px;height:3.2px"></i><i style="left:25.7px;top:11.3px;width:3.3px;height:3.2px"></i><i style="left:18.8px;top:17.3px;width:3.3px;height:3.2px"></i><i style="left:25.7px;top:17.3px;width:3.3px;height:3.2px"></i><b style="left:33.6px;font-size:16.4px;line-height:30.6px;-webkit-text-stroke:0.35px #fff;transform:scaleX(1.043);transform-origin:0 50%">Innovation point</b></div><div class="lc"></div><svg class="lg"><use href="#logo"/></svg><div class="pn">50</div><div class="ttl">Novel method</div><svg class="a" style="left:0;top:0;width:475px;height:270px" viewBox="0 0 475 270"><defs><clipPath id="brL"><rect x="0" y="0" width="66.3" height="140"/></clipPath></defs><g transform="translate(170,85)" clip-path="url(#brL)"><path d="M65.5,20.0 C65.4,18.0 65.6,15.7 64.8,14.0 C64.0,12.3 62.3,10.9 60.5,10.0 C58.7,9.1 56.1,8.7 54.0,8.8 C51.9,8.9 49.7,9.6 48.0,10.5 C46.3,11.4 44.9,13.2 44.0,14.5 C43.1,15.8 43.2,17.5 42.5,18.0 C41.8,18.5 40.8,17.3 39.5,17.5 C38.2,17.7 35.9,18.2 34.5,19.0 C33.1,19.8 31.7,21.3 31.0,22.5 C30.3,23.7 30.5,25.1 30.3,26.2 C30.1,27.3 30.7,28.7 30.0,29.2 C29.3,29.7 27.4,29.0 26.2,29.3 C24.9,29.6 23.5,30.1 22.5,31.0 C21.5,31.9 20.4,33.5 20.0,35.0 C19.6,36.5 19.6,38.5 19.8,40.0 C20.0,41.5 21.3,42.9 21.3,44.0 C21.3,45.1 20.9,45.9 20.0,46.5 C19.1,47.1 17.4,46.6 16.0,47.5 C14.6,48.4 12.5,50.4 11.5,52.0 C10.5,53.6 10.0,55.4 10.0,57.0 C10.0,58.6 10.6,60.3 11.3,61.5 C12.0,62.7 14.1,63.0 14.0,64.0 C13.9,65.0 11.8,65.7 10.8,67.2 C9.8,68.7 8.6,70.9 8.0,73.0 C7.4,75.1 7.1,77.5 7.2,80.0 C7.3,82.5 7.7,85.5 8.5,88.0 C9.3,90.5 10.7,93.0 12.0,95.0 C13.3,97.0 15.4,98.3 16.5,100.0 C17.6,101.7 18.1,103.3 18.5,105.0 C18.9,106.7 18.4,108.6 18.8,110.0 C19.2,111.4 20.0,112.4 21.0,113.2 C22.0,114.0 23.5,114.6 25.0,115.0 C26.5,115.4 29.0,115.0 30.0,115.8 C31.0,116.5 30.4,118.0 31.0,119.5 C31.6,121.0 32.3,123.2 33.5,124.5 C34.7,125.8 36.3,127.0 38.0,127.5 C39.7,128.0 42.0,127.3 43.5,127.6 C45.0,127.9 45.6,128.8 47.0,129.5 C48.4,130.2 50.2,131.6 52.0,132.0 C53.8,132.4 56.2,132.5 58.0,132.0 C59.8,131.5 61.8,130.3 63.0,129.0 C64.2,127.7 64.8,125.7 65.2,124.0 C65.6,122.3 65.7,120.7 65.5,119.0 C65.3,117.3 64.9,115.5 64.2,114.0 C63.5,112.5 61.7,111.0 61.2,109.8 C60.7,108.6 60.7,108.0 61.2,107.0 C61.7,106.0 63.5,105.5 64.2,104.0 C64.9,102.5 65.4,100.0 65.5,98.0 C65.6,96.0 65.4,93.8 65.0,92.0 C64.6,90.2 63.4,88.6 63.0,87.2 C62.6,85.8 62.6,84.7 62.8,83.5 C63.0,82.3 63.9,81.6 64.2,80.0 C64.5,78.4 64.9,76.0 64.8,74.0 C64.7,72.0 64.4,69.9 63.8,68.0 C63.2,66.1 61.4,64.5 61.4,62.5 C61.4,60.5 63.3,58.4 64.0,56.0 C64.7,53.6 65.3,50.7 65.5,48.0 C65.7,45.3 65.3,42.5 65.0,40.0 C64.7,37.5 63.6,35.3 63.7,33.0 C63.8,30.7 65.2,28.4 65.5,26.2 C65.8,24.0 65.6,22.0 65.5,20.0Z" fill="#1e2f60"/><g fill="none" stroke="#fff" stroke-width="3" stroke-linecap="round" stroke-linejoin="round"><path d="M44.5,25.2 C45.0,25.6 46.4,27.1 47.8,27.6 C49.2,28.1 51.1,28.4 52.8,28.2 C54.5,28.0 56.4,27.0 57.8,26.2 C59.2,25.4 60.6,23.7 61.2,23.2"/><path d="M54.0,28.5 C53.8,29.3 53.7,31.8 53.0,33.2 C52.3,34.7 51.3,36.1 49.8,37.2 C48.3,38.3 45.9,39.4 44.0,39.6 C42.1,39.8 40.1,39.4 38.5,38.6 C36.9,37.8 35.6,36.4 34.5,35.0 C33.4,33.6 32.6,31.0 31.8,30.0 C31.0,29.0 30.6,29.4 29.5,29.0 C28.4,28.6 26.2,28.0 25.5,27.8"/><path d="M43.2,40.0 C43.2,40.9 43.8,43.5 43.5,45.2 C43.2,46.9 42.3,48.5 41.5,50.0 C40.7,51.5 39.3,53.0 38.6,54.5 C37.9,56.0 38.2,57.8 37.4,59.2 C36.6,60.6 35.5,62.0 34.0,63.0 C32.5,64.0 29.6,65.0 28.2,65.5 C26.8,66.0 26.9,66.4 25.5,66.3 C24.1,66.2 21.8,65.2 20.0,64.8 C18.2,64.4 16.9,64.1 15.0,64.0 C13.1,63.9 9.6,64.0 8.5,64.0"/><path d="M53.5,52.7 C53.0,53.5 51.2,55.5 50.5,57.2 C49.8,59.0 49.0,61.5 49.0,63.2 C49.0,64.9 49.6,65.8 50.6,67.2 C51.6,68.6 54.3,70.8 55.0,71.5"/><path d="M49.0,64.0 C48.2,64.3 45.6,66.0 44.0,66.0 C42.4,66.0 40.6,65.0 39.5,64.0 C38.4,63.0 37.8,60.5 37.4,59.8"/><path d="M25.5,66.3 C25.8,67.1 26.1,69.8 27.0,71.0 C27.9,72.2 29.3,72.7 31.0,73.5 C32.7,74.3 35.3,74.7 37.0,75.6 C38.7,76.5 40.0,77.7 41.0,79.0 C42.0,80.3 42.9,82.1 43.0,83.6 C43.1,85.1 42.4,86.7 41.5,88.0 C40.6,89.3 38.9,90.1 37.6,91.6 C36.4,93.1 34.9,95.1 34.0,97.0 C33.1,98.9 32.3,101.1 32.5,103.0 C32.7,104.9 33.8,107.1 35.0,108.5 C36.2,109.9 38.5,110.5 40.0,111.6 C41.5,112.7 42.8,113.8 44.0,115.0 C45.2,116.2 46.1,117.9 47.0,119.0 C47.9,120.1 49.1,121.2 49.5,121.6"/><path d="M43.0,83.6 C43.8,83.8 46.2,84.6 48.0,85.0 C49.8,85.4 52.0,85.8 54.0,85.8 C56.0,85.8 57.9,85.4 60.0,85.0 C62.1,84.6 65.7,83.8 66.8,83.6"/><path d="M51.5,101.7 C50.8,102.0 48.6,102.4 47.5,103.4 C46.4,104.4 45.2,106.1 44.6,107.5 C44.0,108.9 44.1,111.1 44.0,111.8"/></g></g><g transform="translate(305.2,85) scale(-1,1)" clip-path="url(#brL)"><path d="M65.5,20.0 C65.4,18.0 65.6,15.7 64.8,14.0 C64.0,12.3 62.3,10.9 60.5,10.0 C58.7,9.1 56.1,8.7 54.0,8.8 C51.9,8.9 49.7,9.6 48.0,10.5 C46.3,11.4 44.9,13.2 44.0,14.5 C43.1,15.8 43.2,17.5 42.5,18.0 C41.8,18.5 40.8,17.3 39.5,17.5 C38.2,17.7 35.9,18.2 34.5,19.0 C33.1,19.8 31.7,21.3 31.0,22.5 C30.3,23.7 30.5,25.1 30.3,26.2 C30.1,27.3 30.7,28.7 30.0,29.2 C29.3,29.7 27.4,29.0 26.2,29.3 C24.9,29.6 23.5,30.1 22.5,31.0 C21.5,31.9 20.4,33.5 20.0,35.0 C19.6,36.5 19.6,38.5 19.8,40.0 C20.0,41.5 21.3,42.9 21.3,44.0 C21.3,45.1 20.9,45.9 20.0,46.5 C19.1,47.1 17.4,46.6 16.0,47.5 C14.6,48.4 12.5,50.4 11.5,52.0 C10.5,53.6 10.0,55.4 10.0,57.0 C10.0,58.6 10.6,60.3 11.3,61.5 C12.0,62.7 14.1,63.0 14.0,64.0 C13.9,65.0 11.8,65.7 10.8,67.2 C9.8,68.7 8.6,70.9 8.0,73.0 C7.4,75.1 7.1,77.5 7.2,80.0 C7.3,82.5 7.7,85.5 8.5,88.0 C9.3,90.5 10.7,93.0 12.0,95.0 C13.3,97.0 15.4,98.3 16.5,100.0 C17.6,101.7 18.1,103.3 18.5,105.0 C18.9,106.7 18.4,108.6 18.8,110.0 C19.2,111.4 20.0,112.4 21.0,113.2 C22.0,114.0 23.5,114.6 25.0,115.0 C26.5,115.4 29.0,115.0 30.0,115.8 C31.0,116.5 30.4,118.0 31.0,119.5 C31.6,121.0 32.3,123.2 33.5,124.5 C34.7,125.8 36.3,127.0 38.0,127.5 C39.7,128.0 42.0,127.3 43.5,127.6 C45.0,127.9 45.6,128.8 47.0,129.5 C48.4,130.2 50.2,131.6 52.0,132.0 C53.8,132.4 56.2,132.5 58.0,132.0 C59.8,131.5 61.8,130.3 63.0,129.0 C64.2,127.7 64.8,125.7 65.2,124.0 C65.6,122.3 65.7,120.7 65.5,119.0 C65.3,117.3 64.9,115.5 64.2,114.0 C63.5,112.5 61.7,111.0 61.2,109.8 C60.7,108.6 60.7,108.0 61.2,107.0 C61.7,106.0 63.5,105.5 64.2,104.0 C64.9,102.5 65.4,100.0 65.5,98.0 C65.6,96.0 65.4,93.8 65.0,92.0 C64.6,90.2 63.4,88.6 63.0,87.2 C62.6,85.8 62.6,84.7 62.8,83.5 C63.0,82.3 63.9,81.6 64.2,80.0 C64.5,78.4 64.9,76.0 64.8,74.0 C64.7,72.0 64.4,69.9 63.8,68.0 C63.2,66.1 61.4,64.5 61.4,62.5 C61.4,60.5 63.3,58.4 64.0,56.0 C64.7,53.6 65.3,50.7 65.5,48.0 C65.7,45.3 65.3,42.5 65.0,40.0 C64.7,37.5 63.6,35.3 63.7,33.0 C63.8,30.7 65.2,28.4 65.5,26.2 C65.8,24.0 65.6,22.0 65.5,20.0Z" fill="#878787"/><g fill="none" stroke="#fff" stroke-width="3" stroke-linecap="round" stroke-linejoin="round"><path d="M44.5,25.2 C45.0,25.6 46.4,27.1 47.8,27.6 C49.2,28.1 51.1,28.4 52.8,28.2 C54.5,28.0 56.4,27.0 57.8,26.2 C59.2,25.4 60.6,23.7 61.2,23.2"/><path d="M54.0,28.5 C53.8,29.3 53.7,31.8 53.0,33.2 C52.3,34.7 51.3,36.1 49.8,37.2 C48.3,38.3 45.9,39.4 44.0,39.6 C42.1,39.8 40.1,39.4 38.5,38.6 C36.9,37.8 35.6,36.4 34.5,35.0 C33.4,33.6 32.6,31.0 31.8,30.0 C31.0,29.0 30.6,29.4 29.5,29.0 C28.4,28.6 26.2,28.0 25.5,27.8"/><path d="M43.2,40.0 C43.2,40.9 43.8,43.5 43.5,45.2 C43.2,46.9 42.3,48.5 41.5,50.0 C40.7,51.5 39.3,53.0 38.6,54.5 C37.9,56.0 38.2,57.8 37.4,59.2 C36.6,60.6 35.5,62.0 34.0,63.0 C32.5,64.0 29.6,65.0 28.2,65.5 C26.8,66.0 26.9,66.4 25.5,66.3 C24.1,66.2 21.8,65.2 20.0,64.8 C18.2,64.4 16.9,64.1 15.0,64.0 C13.1,63.9 9.6,64.0 8.5,64.0"/><path d="M53.5,52.7 C53.0,53.5 51.2,55.5 50.5,57.2 C49.8,59.0 49.0,61.5 49.0,63.2 C49.0,64.9 49.6,65.8 50.6,67.2 C51.6,68.6 54.3,70.8 55.0,71.5"/><path d="M49.0,64.0 C48.2,64.3 45.6,66.0 44.0,66.0 C42.4,66.0 40.6,65.0 39.5,64.0 C38.4,63.0 37.8,60.5 37.4,59.8"/><path d="M25.5,66.3 C25.8,67.1 26.1,69.8 27.0,71.0 C27.9,72.2 29.3,72.7 31.0,73.5 C32.7,74.3 35.3,74.7 37.0,75.6 C38.7,76.5 40.0,77.7 41.0,79.0 C42.0,80.3 42.9,82.1 43.0,83.6 C43.1,85.1 42.4,86.7 41.5,88.0 C40.6,89.3 38.9,90.1 37.6,91.6 C36.4,93.1 34.9,95.1 34.0,97.0 C33.1,98.9 32.3,101.1 32.5,103.0 C32.7,104.9 33.8,107.1 35.0,108.5 C36.2,109.9 38.5,110.5 40.0,111.6 C41.5,112.7 42.8,113.8 44.0,115.0 C45.2,116.2 46.1,117.9 47.0,119.0 C47.9,120.1 49.1,121.2 49.5,121.6"/><path d="M43.0,83.6 C43.8,83.8 46.2,84.6 48.0,85.0 C49.8,85.4 52.0,85.8 54.0,85.8 C56.0,85.8 57.9,85.4 60.0,85.0 C62.1,84.6 65.7,83.8 66.8,83.6"/><path d="M51.5,101.7 C50.8,102.0 48.6,102.4 47.5,103.4 C46.4,104.4 45.2,106.1 44.6,107.5 C44.0,108.9 44.1,111.1 44.0,111.8"/></g></g><g stroke="#6a6a6a" stroke-width="0.75"><path d="M148.4,100.5 L174,122.20000000000005 M152.8,158.4000000000001 L164.9,158.4000000000001 M173.2,194 L153.2,216.5999999999999"/><path d="M319.7,101 L301,121 M310.4,158.4000000000001 L319.7,158.4000000000001 M301,194.79999999999995 L319.7,216.5999999999999"/></g></svg><div class="t b" style="top:84.88px;font-size:9.8px;right:328.70px;color:#171d3d;">Add title text</div><div class="t " style="top:103.88px;font-size:6.87px;right:328.70px;color:#222;">The title can be changed by clicking</div><div class="t " style="top:116.18px;font-size:6.87px;right:328.70px;color:#222;">and re-entering click here</div><div class="t b" style="top:84.88px;font-size:9.8px;left:329.00px;color:#171717;">Add title text</div><div class="t " style="top:103.88px;font-size:6.87px;left:329.00px;color:#222;">The title can be changed by clicking</div><div class="t " style="top:116.18px;font-size:6.87px;left:329.00px;color:#222;">and re-entering click here</div><div class="t b" style="top:142.08px;font-size:9.8px;right:328.70px;color:#171d3d;">Add title text</div><div class="t " style="top:161.08px;font-size:6.87px;right:328.70px;color:#222;">The title can be changed by clicking</div><div class="t " style="top:173.78px;font-size:6.87px;right:328.70px;color:#222;">and re-entering click here</div><div class="t b" style="top:142.08px;font-size:9.8px;left:329.00px;color:#171717;">Add title text</div><div class="t " style="top:161.08px;font-size:6.87px;left:329.00px;color:#222;">The title can be changed by clicking</div><div class="t " style="top:173.78px;font-size:6.87px;left:329.00px;color:#222;">and re-entering click here</div><div class="t b" style="top:199.78px;font-size:9.8px;right:328.70px;color:#171d3d;">Add title text</div><div class="t " style="top:218.58px;font-size:6.87px;right:328.70px;color:#222;">The title can be changed by clicking</div><div class="t " style="top:230.98px;font-size:6.87px;right:328.70px;color:#222;">and re-entering click here</div><div class="t b" style="top:199.78px;font-size:9.8px;left:329.00px;color:#171717;">Add title text</div><div class="t " style="top:218.58px;font-size:6.87px;left:329.00px;color:#222;">The title can be changed by clicking</div><div class="t " style="top:230.98px;font-size:6.87px;left:329.00px;color:#222;">and re-entering click here</div></div>
<div class="s" style="left:485px;top:1120px"><svg class="a" style="left:0;top:0;width:475px;height:210px" viewBox="0 0 475 210"><defs><linearGradient id="bgA51" x1="0" y1="0" x2="1" y2="0"><stop offset="0" stop-color="#1b3465"/><stop offset="0.12" stop-color="#1c3668"/><stop offset="0.3" stop-color="#1e3a72"/><stop offset="0.62" stop-color="#213f7b"/><stop offset="0.8" stop-color="#1f3b76"/><stop offset="1" stop-color="#1e3973"/></linearGradient><radialGradient id="bgB51" cx="0.06" cy="0.45" r="0.28"><stop offset="0" stop-color="#17294f" stop-opacity=".4"/><stop offset="1" stop-color="#17294f" stop-opacity="0"/></radialGradient><filter id="tx51" x="0" y="0" width="1" height="1" color-interpolation-filters="sRGB"><feTurbulence type="fractalNoise" baseFrequency="0.075" numOctaves="3" seed="4"/><feColorMatrix values="0 0 0 0 0.2  0 0 0 0 0.33  0 0 0 0 0.56  0 0 0 1.7 -0.72"/></filter><linearGradient id="mg51" x1="0" y1="0" x2="1" y2="0"><stop offset="0" stop-color="#fff"/><stop offset="0.5" stop-color="#fff"/><stop offset="1" stop-color="#000"/></linearGradient><mask id="mk51"><rect x="0" y="0" width="110" height="160" fill="url(#mg51)"/></mask><clipPath id="bgC51"><path d="M0,0 L475,0 L475,146.5 Q237.5,197.6 0,147.5Z"/></clipPath></defs><g clip-path="url(#bgC51)"><rect width="475" height="210" fill="url(#bgA51)"/><rect width="475" height="210" fill="url(#bgB51)"/><g mask="url(#mk51)"><path d="M0,0 L110,0 L95,30 L58,44 L58,160 L0,160Z" filter="url(#tx51)"/></g><rect width="475" height="1.2" fill="#12234c"/></g></svg><div class="a" style="left:45px;top:41.2px;width:385.6px;height:188.2px;background:#fff;border:1px solid #223462;border-radius:3px;box-shadow:0 1px 3px rgba(0,0,0,.2);overflow:hidden"><svg class="a" style="left:-1px;top:-1px;width:385.6px;height:188.2px" viewBox="45 41.2 385.6 188.2"><defs><linearGradient id="wg51" x1="0" y1="0" x2="0" y2="1"><stop offset="0" stop-color="#f1f1f1" stop-opacity="0"/><stop offset="1" stop-color="#f4f4f4" stop-opacity=".95"/></linearGradient></defs><path d="M45,160 C80,166 110,206 152,218 C190,226 215,202 273,198 C330,195 380,190 431,172 L431,230 L45,230Z" fill="url(#wg51)"/><path d="M45,163 C80,168 110,208 152,219.5 C190,227 215,203 273,199 C330,196 380,191 431,175" fill="none" stroke="#e6e6e6" stroke-width="2.6" opacity=".55"/><path d="M45,176 C90,172 120,190 160,214 C200,230 240,196 300,186 C350,180 400,200 431,196" fill="none" stroke="#f0f0f0" stroke-width="2.5" opacity=".4"/></svg></div><div class="a" style="left:368.9px;top:32.8px;width:39px;height:39px;border-radius:50%;background:#fff"></div><svg class="a" style="left:374.4px;top:38.3px;width:28.2px;height:31.2px"><use href="#logo"/></svg><div class="a" style="left:125px;top:101.2px;width:35.6px;height:36.4px;border:1.9px solid #18204a;border-radius:3px;background:#fff"></div><div class="t b" style="top:104.60px;font-size:29.5px;left:-7.10px;width:300px;text-align:center;color:#171e48;">8</div><div class="t b" style="top:102.00px;font-size:23.5px;left:172.20px;color:#171e48;">Bibliography</div><div class="t b" style="top:128.67px;font-size:8.85px;left:172.30px;color:#666;">References</div><svg class="a" style="left:172.3px;top:150.80px;width:7px;height:7px" viewBox="0 0 7 7"><path d="M0,0h2.6v2.6h-2.6zM4,0h2.6v2.6h-2.6zM0,4h2.6v2.6h-2.6zM4,4h2.6v2.6h-2.6z" fill="#171e48"/></svg><div class="t " style="top:149.35px;font-size:10.85px;left:184.00px;color:#1a1a1a;">Main references</div><svg class="a" style="left:172.3px;top:168.20px;width:7px;height:7px" viewBox="0 0 7 7"><path d="M0,0h2.6v2.6h-2.6zM4,0h2.6v2.6h-2.6zM0,4h2.6v2.6h-2.6zM4,4h2.6v2.6h-2.6z" fill="#171e48"/></svg><div class="t " style="top:166.75px;font-size:10.85px;left:184.00px;color:#1a1a1a;">Secondary references</div><div class="pn">51</div></div>
</body></html>
